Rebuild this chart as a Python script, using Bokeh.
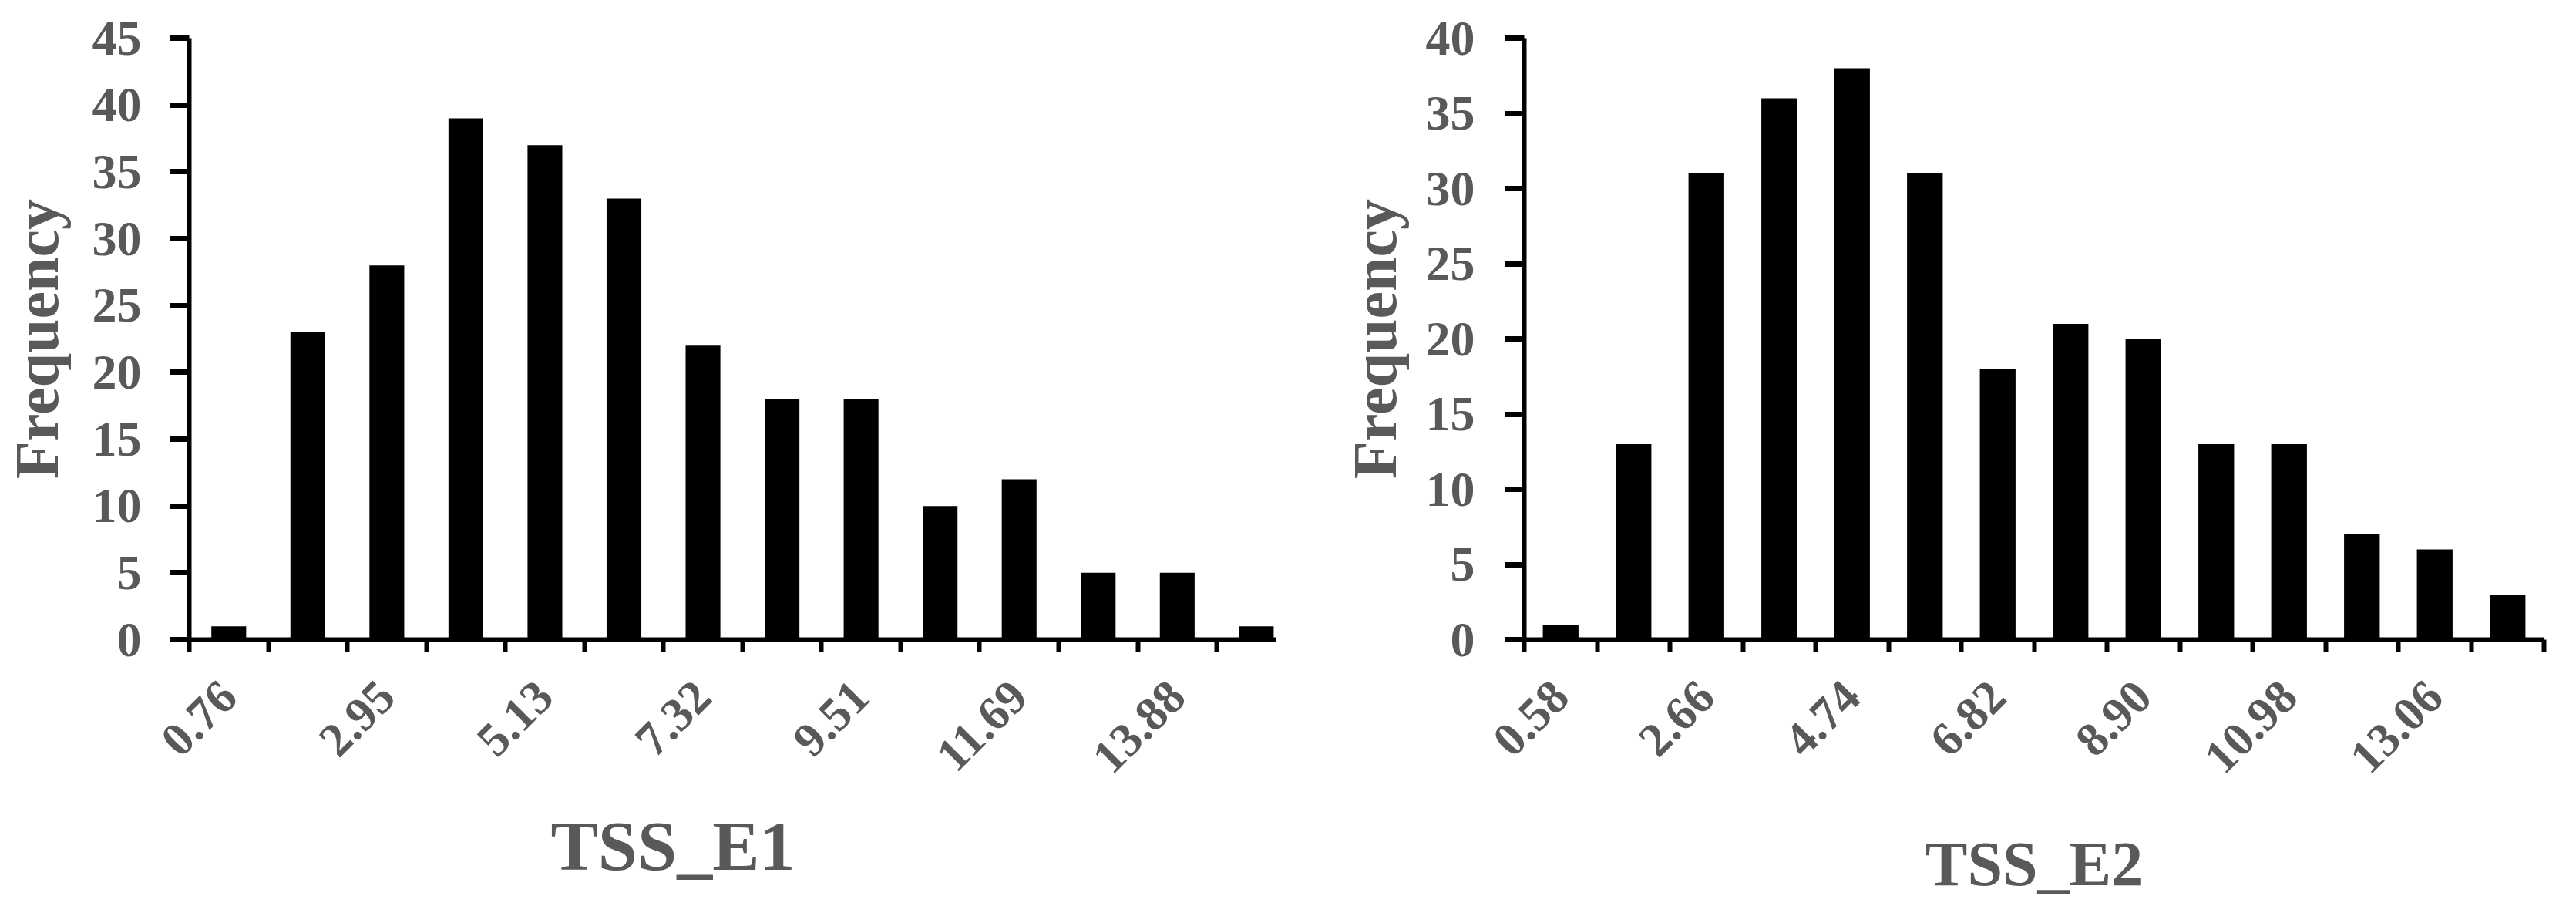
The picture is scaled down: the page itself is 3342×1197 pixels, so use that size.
import math
from bokeh.plotting import figure
from bokeh.models import Range1d, FixedTicker, SingleIntervalTicker, Title
from bokeh.layouts import row
from bokeh.embed import file_html
from bokeh.resources import INLINE

# ---- data ----
e1_counts = [1, 23, 28, 39, 37, 33, 22, 18, 18, 10, 12, 5, 5, 1]
e1_tick_labels = ["0.76", "2.95", "5.13", "7.32", "9.51", "11.69", "13.88"]
e2_counts = [1, 13, 31, 36, 38, 31, 18, 21, 20, 13, 13, 7, 6, 3]
e2_tick_labels = ["0.58", "2.66", "4.74", "6.82", "8.90", "10.98", "13.06"]
y_title = "Frequency"
e1_title = "TSS_E1"
e2_title = "TSS_E2"

FONT = "'Liberation Serif', 'Times New Roman', serif"
GRAY = "#595959"
H = 1180


def make(counts, tick_labels, ymax, xmax, width, mb_left, mb_right, mb_top, mb_bottom,
         bar_w, ylab_standoff, ytick_standoff):
    n = len(counts)
    centers = [i + 0.5 for i in range(n)]
    p = figure(width=width, height=H, x_range=Range1d(0, xmax), y_range=Range1d(0, ymax),
               output_backend="svg", toolbar_location=None,
               min_border_left=mb_left, min_border_right=mb_right,
               min_border_top=mb_top, min_border_bottom=mb_bottom)
    p.title.visible = False
    p.outline_line_color = None
    p.xgrid.visible = False
    p.ygrid.visible = False
    p.background_fill_color = "white"

    p.vbar(x=centers, top=counts, bottom=0, width=bar_w, fill_color="black", line_color=None)

    # x axis: boundary ticks as minor ticks, labels on every other bin centre
    label_pos = [0.5 + 2 * k for k in range(len(tick_labels))]
    xa = p.xaxis[0]
    xa.ticker = FixedTicker(ticks=label_pos, minor_ticks=list(range(n + 1)))
    xa.major_label_overrides = {pos: lab for pos, lab in zip(label_pos, tick_labels)}
    xa.major_tick_out = 0
    xa.major_tick_in = 0
    xa.minor_tick_out = 16
    xa.minor_tick_in = 0
    xa.minor_tick_line_width = 6
    xa.minor_tick_line_color = "black"
    xa.axis_line_width = 6
    xa.axis_line_color = "black"
    xa.major_label_orientation = math.pi / 4
    xa.major_label_standoff = 48
    xa.major_label_text_font = FONT
    xa.major_label_text_font_style = "bold"
    xa.major_label_text_font_size = "62px"
    xa.major_label_text_color = GRAY

    # y axis
    ya = p.yaxis[0]
    ya.ticker = SingleIntervalTicker(interval=5, num_minor_ticks=0)
    ya.major_tick_out = 25
    ya.major_tick_in = 0
    ya.major_tick_line_width = 7
    ya.major_tick_line_color = "black"
    ya.minor_tick_line_color = None
    ya.axis_line_width = 6
    ya.axis_line_color = "black"
    ya.major_label_standoff = ytick_standoff
    ya.major_label_text_font = FONT
    ya.major_label_text_font_style = "bold"
    ya.major_label_text_font_size = "64px"
    ya.major_label_text_color = GRAY
    ya.axis_label = y_title
    ya.axis_label_standoff = ylab_standoff
    ya.axis_label_text_font = FONT
    ya.axis_label_text_font_style = "bold"
    ya.axis_label_text_font_size = "80px"
    ya.axis_label_text_color = GRAY
    return p


# left chart: x title sits left of the frame centre -> a "below" Title with an offset
p1 = make(e1_counts, e1_tick_labels, 45, 13.75, 1722, 243, 67, 49, 351, 0.44, 25, 37)
t1 = Title(text=e1_title, align="left", offset=469, standoff=40,
           text_font=FONT, text_font_style="bold", text_font_size="92px", text_color=GRAY)
p1.add_layout(t1, "below")

# right chart: centred x title as the axis label
p2 = make(e2_counts, e2_tick_labels, 40, 14, 1604, 255, 26, 34, 339, 0.49, 19, 39)
xa2 = p2.xaxis[0]
xa2.axis_label = e2_title
xa2.axis_label_standoff = 52
xa2.axis_label_text_font = FONT
xa2.axis_label_text_font_style = "bold"
xa2.axis_label_text_font_size = "82px"
xa2.axis_label_text_color = GRAY

layout = row(p1, p2)
open("out.html", "w").write(file_html(layout, INLINE))
